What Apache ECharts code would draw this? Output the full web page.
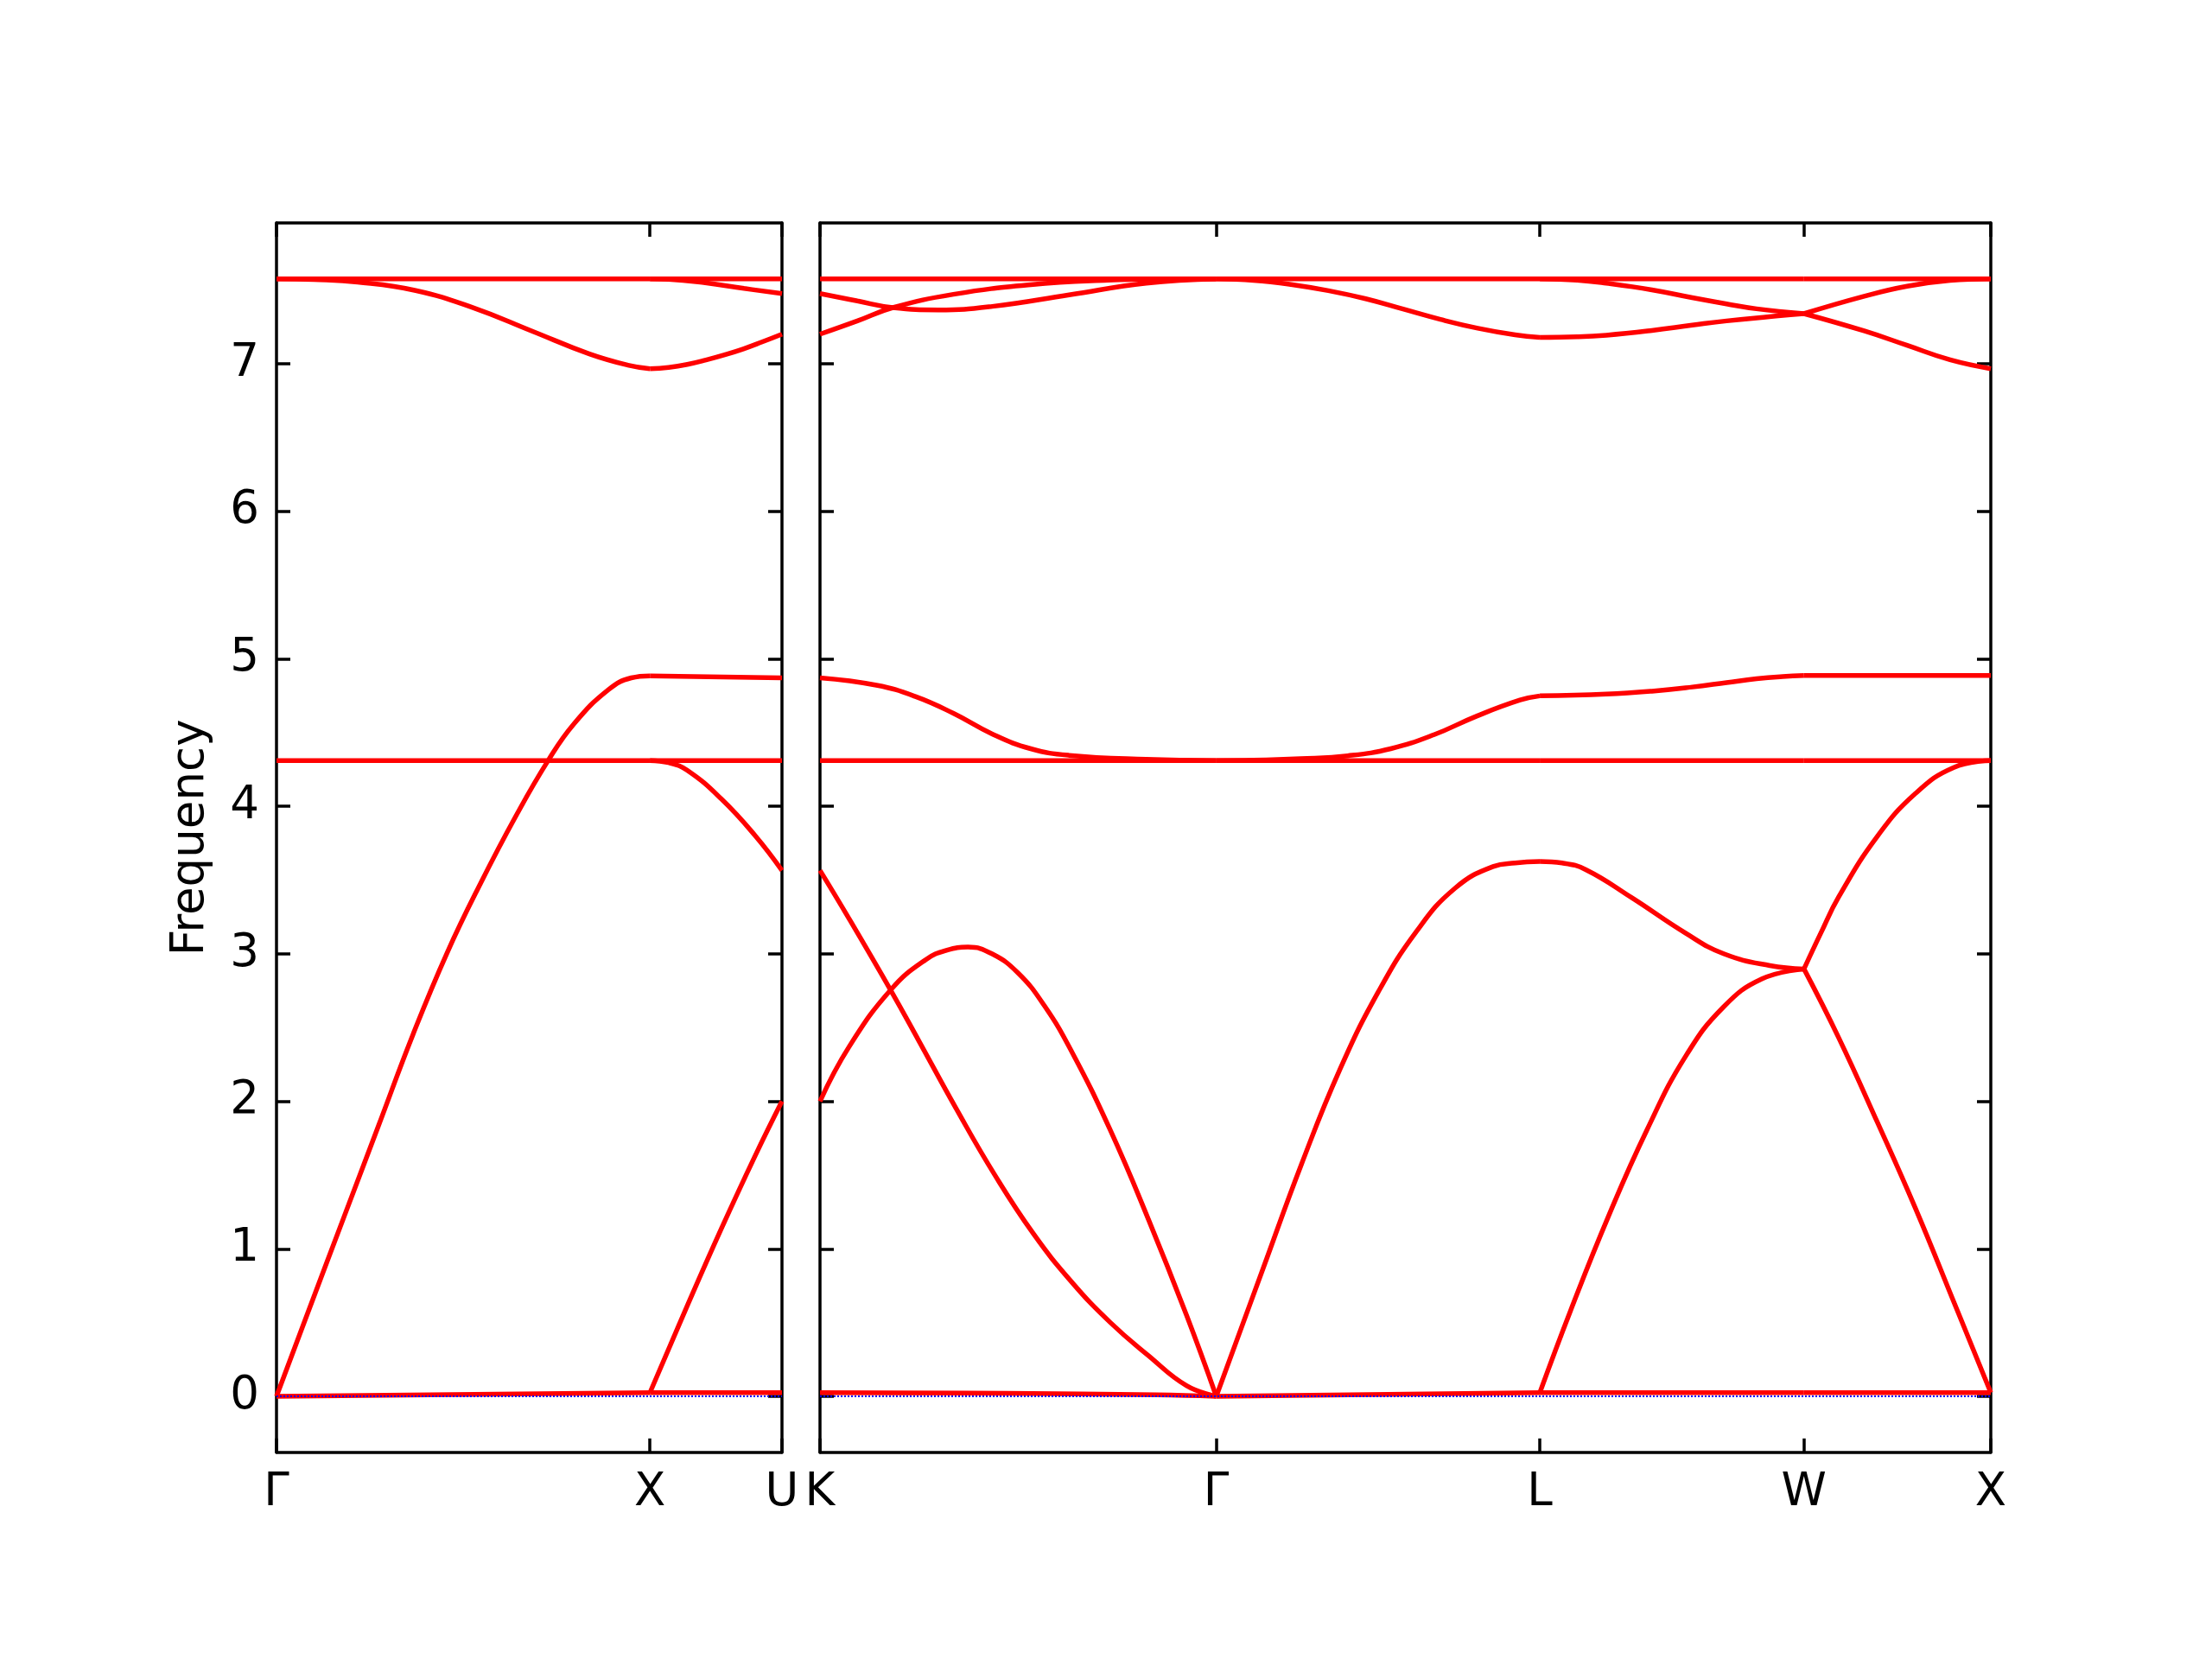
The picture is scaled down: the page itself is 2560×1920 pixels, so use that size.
<!DOCTYPE html>
<html>
<head>
<meta charset="utf-8">
<script src="https://cdn.jsdelivr.net/npm/echarts@6/dist/echarts.min.js"></script>
<style>
html,body{margin:0;padding:0;background:#fff;}
#chart{width:2560px;height:1920px;}
</style>
</head>
<body>
<div id="chart"></div>
<script>
// ---- data ----
const leftLabels = ['Γ', 'X', 'U'];
const rightLabels = ['K', 'Γ', 'L', 'W', 'X'];
// path segment lengths (reciprocal-space distance): Γ-X, X-U | K-Γ, Γ-L, L-W, W-X
const segLengths = [1.0, 0.35355, 1.06066, 0.86603, 0.70711, 0.5];
const yTicks = [0, 1, 2, 3, 4, 5, 6, 7];
const yMin = -0.379, yMax = 7.954;

// each segment: list of bands, each band [distance from segment start, frequency]
const bandsGX = [
  [[0,7.575],[1,7.575]],
  [[0,7.575],[0.1,7.57],[0.2175,7.553],[0.3727,7.496],[0.528,7.378],[0.683,7.222],[0.838,7.066],[0.941,6.99],[1,6.966]],
  [[0,4.31],[1,4.31]],
  [[0,0],[0.09,0.608],[0.1816,1.222],[0.2734,1.836],[0.3651,2.45],[0.4568,3.006],[0.5486,3.488],[0.6403,3.93],[0.7275,4.31],[0.797,4.56],[0.889,4.79],[0.95,4.87],[1,4.884]],
  [[0,0],[1,0.025]]
];
const bandsXU = [
  [[0,7.575],[0.35355,7.575]],
  [[0,7.575],[0.05,7.572],[0.148,7.548],[0.252,7.51],[0.35355,7.475]],
  [[0,6.966],[0.05,6.975],[0.1,6.995],[0.15,7.025],[0.2,7.06],[0.25,7.1],[0.3,7.147],[0.35355,7.2]],
  [[0,4.884],[0.35355,4.87]],
  [[0,4.31],[0.35355,4.31]],
  [[0,4.31],[0.05,4.295],[0.099,4.245],[0.191,4.05],[0.282,3.8],[0.35355,3.565]],
  [[0,0.025],[0.099,0.608],[0.191,1.135],[0.282,1.632],[0.35355,2.0]],
  [[0,0.025],[0.35355,0.025]]
];
const bandsKG = [
  [[0,7.575],[1.06066,7.575]],
  [[0,7.2],[0.1,7.29],[0.195,7.38],[0.357,7.47],[0.564,7.535],[0.77,7.566],[0.92,7.574],[1.06066,7.575]],
  [[0,7.475],[0.1,7.425],[0.195,7.38],[0.317,7.364],[0.461,7.388],[0.667,7.466],[0.873,7.545],[1.06066,7.575]],
  [[0,4.87],[0.151,4.82],[0.254,4.745],[0.357,4.63],[0.461,4.49],[0.564,4.39],[0.667,4.345],[0.873,4.318],[1.06066,4.31]],
  [[0,4.31],[1.06066,4.31]],
  [[0,3.565],[0.078,3.237],[0.191,2.745],[0.263,2.417],[0.365,1.948],[0.468,1.5],[0.571,1.103],[0.673,0.777],[0.776,0.503],[0.879,0.276],[0.981,0.072],[1.06066,0]],
  [[0,2.0],[0.078,2.37],[0.191,2.76],[0.283,2.96],[0.34,3.025],[0.396,3.045],[0.46,3.0],[0.53,2.87],[0.6,2.65],[0.673,2.34],[0.776,1.81],[0.879,1.2],[0.981,0.55],[1.06066,0]],
  [[0,0.025],[0.5,0.02],[0.9,0.01],[1.06066,0]]
];
const bandsGL = [
  [[0,7.575],[0.86603,7.575]],
  [[0,7.575],[0.1,7.565],[0.2,7.537],[0.3,7.495],[0.4,7.44],[0.5,7.37],[0.6,7.3],[0.7,7.24],[0.8,7.195],[0.86603,7.178]],
  [[0,4.31],[0.1,4.312],[0.226,4.322],[0.352,4.342],[0.467,4.39],[0.583,4.485],[0.698,4.612],[0.813,4.72],[0.86603,4.748]],
  [[0,4.31],[0.86603,4.31]],
  [[0,0],[0.126,0.871],[0.228,1.573],[0.331,2.216],[0.434,2.743],[0.536,3.152],[0.639,3.444],[0.741,3.591],[0.8,3.615],[0.86603,3.625]],
  [[0,0],[0.86603,0.025]]
];
const bandsLW = [
  [[0,7.575],[0.70711,7.575]],
  [[0,7.575],[0.1,7.566],[0.178,7.545],[0.3,7.5],[0.408,7.447],[0.5,7.405],[0.58,7.372],[0.70711,7.339]],
  [[0,7.178],[0.1,7.182],[0.178,7.193],[0.3,7.225],[0.408,7.261],[0.5,7.29],[0.638,7.324],[0.70711,7.339]],
  [[0,4.748],[0.178,4.76],[0.3,4.78],[0.408,4.808],[0.5,4.838],[0.58,4.864],[0.65,4.879],[0.70711,4.886]],
  [[0,4.31],[0.70711,4.31]],
  [[0,3.625],[0.06,3.615],[0.123,3.57],[0.246,3.38],[0.39,3.14],[0.492,3.0],[0.616,2.92],[0.70711,2.897]],
  [[0,0.025],[0.082,0.579],[0.184,1.222],[0.287,1.807],[0.39,2.304],[0.492,2.64],[0.595,2.83],[0.70711,2.897]],
  [[0,0.025],[0.70711,0.025]]
];
const bandsWX = [
  [[0,7.575],[0.5,7.575]],
  [[0,7.339],[0.161,7.457],[0.276,7.525],[0.391,7.564],[0.5,7.575]],
  [[0,7.339],[0.161,7.222],[0.276,7.124],[0.391,7.026],[0.5,6.966]],
  [[0,4.886],[0.5,4.886]],
  [[0,4.31],[0.5,4.31]],
  [[0,2.897],[0.045,3.14],[0.093,3.386],[0.196,3.795],[0.299,4.088],[0.401,4.263],[0.5,4.31]],
  [[0,2.897],[0.093,2.43],[0.196,1.86],[0.299,1.27],[0.401,0.64],[0.5,0.025]],
  [[0,0.025],[0.5,0.025]]
];

// ---- build chart ----
const segments = [bandsGX, bandsXU, bandsKG, bandsGL, bandsLW, bandsWX];
const segPanel = [0, 0, 1, 1, 1, 1];
const segStarts = [];
let acc = 0;
segLengths.forEach(l => { segStarts.push(acc); acc += l; });
const leftTicks = [segStarts[0], segStarts[1], segStarts[2]];
const rightTicks = [segStarts[2], segStarts[3], segStarts[4], segStarts[5], acc];

const FONT = 'DejaVu Sans';
const FS = 53;
const AXW = 3.5;

function nameFor(ticks, labels) {
  return function (v) {
    let best = 0, bd = Infinity;
    ticks.forEach((t, i) => { const d = Math.abs(t - v); if (d < bd) { bd = d; best = i; } });
    return labels[best];
  };
}

function xAx(grid, min, max, ticks, labels, pos) {
  return {
    type: 'value', gridIndex: grid, position: pos, min: min, max: max,
    axisLine: { show: true, onZero: false, lineStyle: { color: '#000', width: AXW } },
    axisTick: { show: true, inside: true, length: 16, customValues: ticks, lineStyle: { color: '#000', width: AXW } },
    axisLabel: pos === 'bottom' ? {
      show: true, customValues: ticks, formatter: nameFor(ticks, labels),
      fontFamily: FONT, fontSize: FS, color: '#000', margin: 21
    } : { show: false },
    splitLine: { show: false }
  };
}
function yAx(grid, pos, showLabels, name) {
  const a = {
    type: 'value', gridIndex: grid, position: pos, min: yMin, max: yMax,
    axisLine: { show: true, onZero: false, lineStyle: { color: '#000', width: AXW } },
    axisTick: { show: true, inside: true, length: 16, customValues: yTicks, lineStyle: { color: '#000', width: AXW } },
    axisLabel: showLabels ? {
      show: true, customValues: yTicks, fontFamily: FONT, fontSize: FS, color: '#000', margin: 20,
      formatter: v => String(Math.round(v))
    } : { show: false },
    splitLine: { show: false }
  };
  if (name) {
    a.name = name; a.nameLocation = 'middle'; a.nameGap = 72;
    a.nameTextStyle = { fontFamily: FONT, fontSize: FS, color: '#000' };
  }
  return a;
}

const series = [];
segments.forEach((bands, s) => {
  const p = segPanel[s];
  bands.forEach(b => {
    series.push({
      type: 'line', xAxisIndex: p * 2, yAxisIndex: p * 2,
      data: b.map(pt => [segStarts[s] + pt[0], pt[1]]),
      smooth: 0.45, symbol: 'none', silent: true,
      lineStyle: { color: '#ff0000', width: 5.5 }, z: 3
    });
  });
});
[0, 1].forEach(p => {
  series.push({
    type: 'line', xAxisIndex: p * 2, yAxisIndex: p * 2, data: [], symbol: 'none', silent: true, z: 2,
    markLine: {
      silent: true, symbol: ['none', 'none'], label: { show: false },
      lineStyle: { color: '#0000ff', type: 'dotted', width: 2 },
      data: [{ yAxis: 0 }]
    }
  });
});

const chart = echarts.init(document.getElementById('chart'), null, { renderer: 'canvas' });
chart.setOption({
  animation: false,
  backgroundColor: '#ffffff',
  grid: [
    { left: 320, top: 258, width: 585, height: 1422.7 },
    { left: 949, top: 258, width: 1355, height: 1422.7 }
  ],
  xAxis: [
    xAx(0, 0, segStarts[2], leftTicks, leftLabels, 'bottom'),
    xAx(0, 0, segStarts[2], leftTicks, leftLabels, 'top'),
    xAx(1, segStarts[2], acc, rightTicks, rightLabels, 'bottom'),
    xAx(1, segStarts[2], acc, rightTicks, rightLabels, 'top')
  ],
  yAxis: [
    yAx(0, 'left', true, 'Frequency'),
    yAx(0, 'right', false),
    yAx(1, 'left', false),
    yAx(1, 'right', false)
  ],
  series: series
});
</script>
</body>
</html>
